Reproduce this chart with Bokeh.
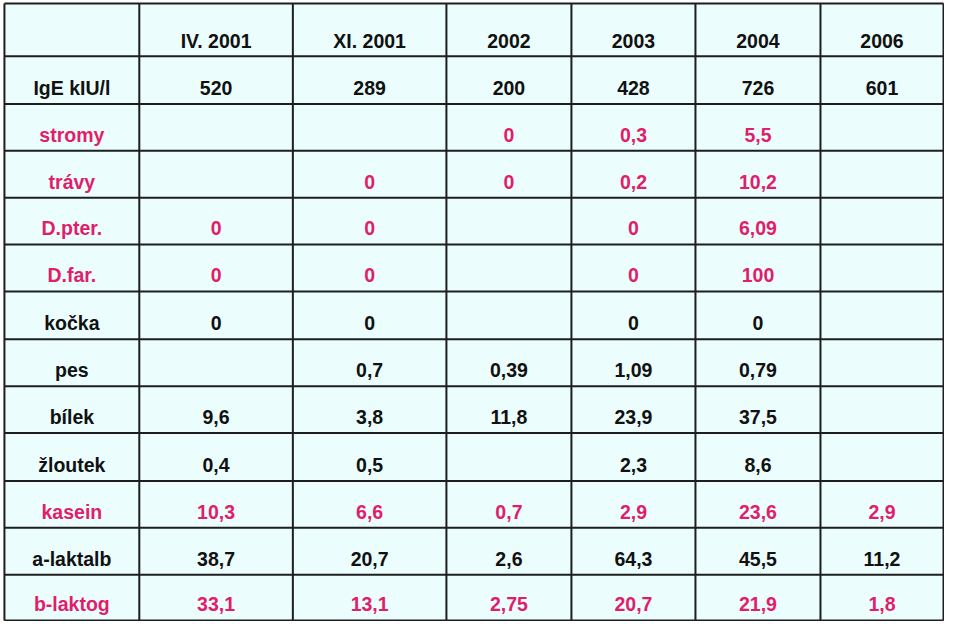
from bokeh.plotting import figure
from bokeh.models import Range1d, ColumnDataSource
from bokeh.core.properties import value
from bokeh.embed import file_html
from bokeh.resources import INLINE

# ---- data ----
periods = ["IV. 2001", "XI. 2001", "2002", "2003", "2004", "2006"]
allergens = ["IgE kIU/l", "stromy", "trávy", "D.pter.", "D.far.", "kočka",
             "pes", "bílek", "žloutek", "kasein", "a-laktalb", "b-laktog"]
highlighted = ["stromy", "trávy", "D.pter.", "D.far.", "kasein", "b-laktog"]

ige = ["520", "289", "200", "428", "726", "601"]
stromy = ["", "", "0", "0,3", "5,5", ""]
travy = ["", "0", "0", "0,2", "10,2", ""]
dpter = ["0", "0", "", "0", "6,09", ""]
dfar = ["0", "0", "", "0", "100", ""]
kocka = ["0", "0", "", "0", "0", ""]
pes = ["", "0,7", "0,39", "1,09", "0,79", ""]
bilek = ["9,6", "3,8", "11,8", "23,9", "37,5", ""]
zloutek = ["0,4", "0,5", "", "2,3", "8,6", ""]
kasein = ["10,3", "6,6", "0,7", "2,9", "23,6", "2,9"]
alaktalb = ["38,7", "20,7", "2,6", "64,3", "45,5", "11,2"]
blaktog = ["33,1", "13,1", "2,75", "20,7", "21,9", "1,8"]

rows = [ige, stromy, travy, dpter, dfar, kocka, pes, bilek, zloutek,
        kasein, alaktalb, blaktog]

# ---- layout (reference pixel coordinates, y downward) ----
col_edges = [4, 141, 297, 453, 580, 706, 833, 958]
row_edges = [3, 57, 106, 154, 202, 250, 298, 347, 395, 443, 492, 540, 588, 635]

PINK = "#E01E6C"
BLACK = "#111111"
BG = "#EBFDFD"
LINE = "#1e1e1e"
FS = "19.5px"

p = figure(width=944, height=621, output_backend="svg", toolbar_location=None,
           x_range=Range1d(0, 959), y_range=Range1d(636, 0),
           min_border=0, min_border_left=0, min_border_right=0,
           min_border_top=0, min_border_bottom=0)
p.axis.visible = False
p.grid.visible = False
p.outline_line_color = None
p.background_fill_color = "white"
p.border_fill_color = "white"

L, R, T, B = col_edges[0], col_edges[-1], row_edges[0], row_edges[-1]
p.quad(left=[L], right=[R], top=[T], bottom=[B], fill_color=BG, line_color=None)

# grid lines
p.segment(x0=col_edges, x1=col_edges, y0=[T] * len(col_edges), y1=[B] * len(col_edges),
          line_color=LINE, line_width=2)
p.segment(x0=[L] * len(row_edges), x1=[R] * len(row_edges), y0=row_edges, y1=row_edges,
          line_color=LINE, line_width=2)

xs, ys, texts, colors = [], [], [], []
centers = [(col_edges[i] + col_edges[i + 1]) / 2 for i in range(len(col_edges) - 1)]

# header
for j, per in enumerate(periods):
    xs.append(centers[j + 1]); ys.append(row_edges[1] - 15.5); texts.append(per); colors.append(BLACK)

for i, (name, vals) in enumerate(zip(allergens, rows)):
    c = PINK if name in highlighted else BLACK
    mid = row_edges[i + 2] - 16.5
    xs.append(centers[0]); ys.append(mid); texts.append(name); colors.append(c)
    for j, v in enumerate(vals):
        if v:
            xs.append(centers[j + 1]); ys.append(mid); texts.append(v); colors.append(c)

src = ColumnDataSource(dict(x=xs, y=ys, t=texts, c=colors))
p.text(x="x", y="y", text="t", text_color="c", source=src,
       text_font=value("Liberation Sans"), text_font_style="bold",
       text_font_size=FS, text_align="center", text_baseline="middle")

open("out.html", "w").write(file_html(p, INLINE))
